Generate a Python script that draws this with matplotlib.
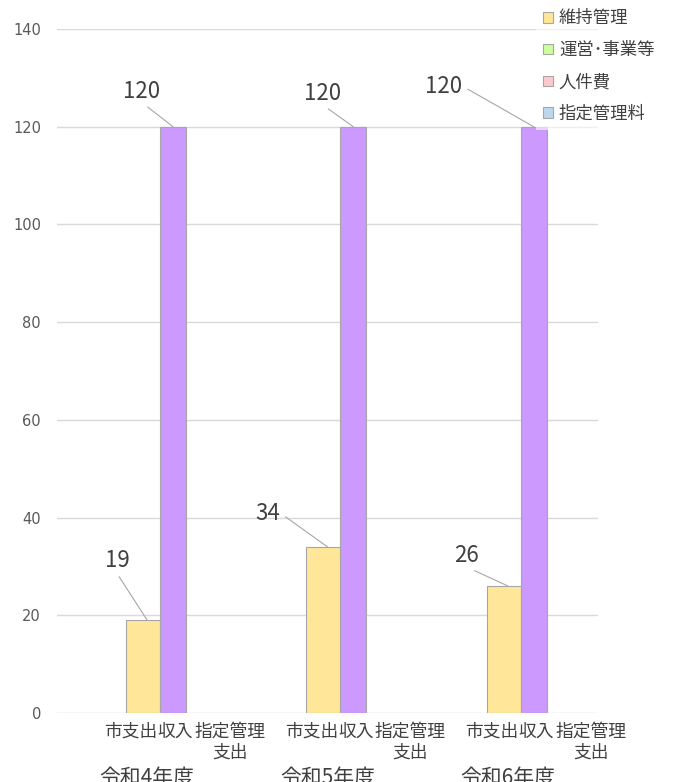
import matplotlib
matplotlib.use("Agg")
import matplotlib.pyplot as plt
import matplotlib.patches as mpatches

plt.rcParams["font.family"] = ["Noto Sans CJK JP", "DejaVu Sans"]

# data
years = ["令和4年度", "令和5年度", "令和6年度"]
categories = ["市支出", "収入", "指定管理\n支出"]
maintenance = [19, 34, 26]  # 維持管理 (市支出)
income = [120, 120, 120]  # 収入
legend_labels = ["維持管理", "運営･事業等", "人件費", "指定管理料"]
legend_colors = ["#FFE699", "#CCFF99", "#FFC7CE", "#BDD7EE"]
yticks = [0, 20, 40, 60, 80, 100, 120, 140]

yellow = "#FFE699"
purple = "#CC99FF"
edge = "#A6A6A6"

fig = plt.figure(figsize=(6.75, 7.82), dpi=100)
ax = fig.add_axes([57 / 675, 1 - 713 / 782, 541 / 675, 684 / 782])
ax.set_xlim(0, 3)
ax.set_ylim(0, 140)

for g in range(len(years)):
    ax.bar(g + 0.383, maintenance[g], width=0.188, align="edge",
           color=yellow, edgecolor=edge, linewidth=0.8, zorder=3)
    ax.bar(g + 0.571, income[g], width=0.144, align="edge",
           color=purple, edgecolor=edge, linewidth=0.8, zorder=3)

# grid / axes
ax.set_yticks(yticks)
ax.yaxis.grid(True, color="#D9D9D9", linewidth=1)
ax.set_axisbelow(True)
for s in ax.spines.values():
    s.set_visible(False)
ax.tick_params(axis="y", length=0, pad=11.5, labelsize=10.5, labelcolor="#595959")
for t in ax.get_yticklabels():
    t.set_fontfamily("DejaVu Sans")
ax.set_xticks([])

# category labels
xt = ax.get_xaxis_transform()
cat_offsets = [0.41, 0.657, 0.96]
for g in range(len(years)):
    for c, off in zip(categories, cat_offsets):
        ax.text(g + off, -0.014, c, transform=xt, ha="center", va="top",
                fontsize=12.8, color="#404040", linespacing=1.2)
    ax.text(g + 0.5, -0.079, years[g], transform=xt, ha="center", va="top",
            fontsize=15, color="#404040")

# data labels with leader lines
line = dict(arrowstyle="-", color="#A6A6A6", lw=0.8, shrinkA=2, shrinkB=0)
yl_pos = [(0.333, 31.3), (1.170, 40.9), (2.268, 32.3)]
yl_rel = [(0.45, 0), (1, 0.5), (0.5, 0)]
for g in range(len(years)):
    ax.annotate(str(maintenance[g]), xy=(g + 0.5, maintenance[g]),
                xytext=yl_pos[g], ha="center", va="center", fontsize=16,
                color="#404040",
                arrowprops=dict(line, relpos=yl_rel[g]))
pl_pos = [(0.471, 127.3), (1.470, 126.9), (2.146, 128.3)]
pl_rel = [(0.5, 0), (0.5, 0), (1, 0.5)]
for g in range(len(years)):
    ax.annotate(str(income[g]), xy=(g + 0.643, income[g]),
                xytext=pl_pos[g], ha="center", va="center", fontsize=16,
                color="#404040",
                arrowprops=dict(line, relpos=pl_rel[g]))

# legend
handles = [mpatches.Patch(facecolor=c, edgecolor=edge, linewidth=0.8, label=l)
           for l, c in zip(legend_labels, legend_colors)]
leg = ax.legend(handles=handles, loc="upper left",
                bbox_to_anchor=(536 / 675, 0.997), bbox_transform=fig.transFigure,
                fontsize=12.5, handlelength=0.57, handleheight=0.57,
                handletextpad=0.35, labelspacing=0.8, borderpad=0.4,
                borderaxespad=0, frameon=True, fancybox=False,
                framealpha=0.6, edgecolor="none")
for t in leg.get_texts():
    t.set_color("#404040")

fig.savefig("out.png", dpi=100)
